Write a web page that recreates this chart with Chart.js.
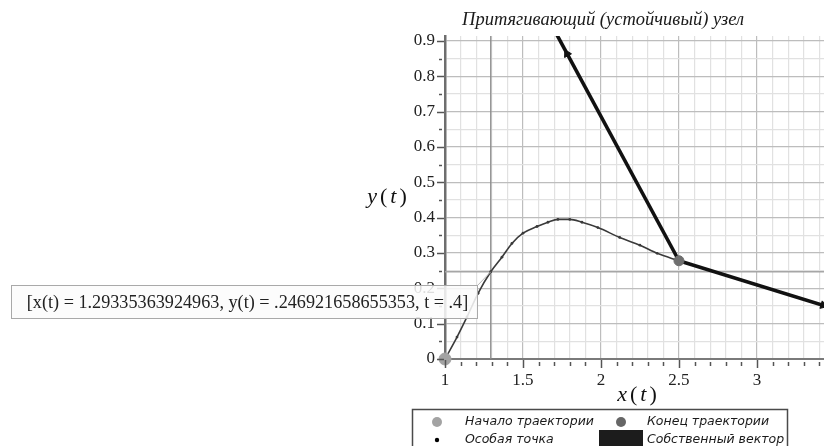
<!DOCTYPE html>
<html>
<head>
<meta charset="utf-8">
<script src="https://cdn.jsdelivr.net/npm/chart.js@4/dist/chart.umd.min.js"></script>
<style>
  html, body { margin: 0; padding: 0; background: #fff; overflow: hidden; }
  #wrap { position: relative; width: 824px; height: 446px; }
</style>
</head>
<body>
<div id="wrap"><canvas id="c" width="824" height="446"></canvas></div>
<script>
// Phase portrait of a stable node: one trajectory, the singular point and its eigenvectors
const chartTitle = 'Притягивающий (устойчивый) узел';
const xAxisName = 'x';
const yAxisName = 'y';
const paramName = 't';

// trajectory (x(t), y(t))
const trajX = [1.000, 1.077, 1.141, 1.212, 1.2934, 1.365, 1.429, 1.500, 1.590, 1.660, 1.724, 1.800, 1.878, 1.980, 2.120, 2.250, 2.360, 2.500];
const trajY = [0.000, 0.062, 0.119, 0.186, 0.2469, 0.288, 0.327, 0.356, 0.375, 0.387, 0.395, 0.395, 0.387, 0.372, 0.344, 0.322, 0.299, 0.278];

// start / end of the trajectory, singular point
const startPoint = { x: 1.0, y: 0.0 };
const endPoint = { x: 2.5, y: 0.278 };
const singularPoint = { x: 2.5, y: 0.278 };

// eigenvectors through the singular point
const eigenAX = [2.5, 1.702];
const eigenAY = [0.278, 0.930];
const eigenBX = [2.5, 3.46];
const eigenBY = [0.278, 0.147];
// arrow heads on the eigenvectors
const arrowX = [1.782, 3.425];
const arrowY = [0.864, 0.152];
const arrowAngle = [-28, 107];

// probed point on the trajectory
const probeX = 1.29335363924963;
const probeY = 0.246921658655353;
const probeT = 0.4;

// axis ticks
const xTickValues = [1, 1.1, 1.2, 1.3, 1.4, 1.5, 1.6, 1.7, 1.8, 1.9, 2, 2.1, 2.2, 2.3, 2.4, 2.5, 2.6, 2.7, 2.8, 2.9, 3, 3.1, 3.2, 3.3, 3.4];
const xTickLabels = ['1', '1.5', '2', '2.5', '3'];
const yTickValues = [0, 0.05, 0.1, 0.15, 0.2, 0.25, 0.3, 0.35, 0.4, 0.45, 0.5, 0.55, 0.6, 0.65, 0.7, 0.75, 0.8, 0.85, 0.9];
const yTickLabels = ['0', '0.1', '0.2', '0.3', '0.4', '0.5', '0.6', '0.7', '0.8', '0.9'];

// legend entries
const legendItems = [
  { text: 'Начало траектории', kind: 'circle', color: '#a3a3a3' },
  { text: 'Конец траектории', kind: 'circle', color: '#666666' },
  { text: 'Особая точка', kind: 'dot', color: '#000000' },
  { text: 'Собственный вектор', kind: 'rect', color: '#1c1c1c' }
];

const pts = (xs, ys) => xs.map((x, i) => ({ x: x, y: ys[i] }));
const isMult = (v, step) => Math.abs(v / step - Math.round(v / step)) < 1e-6;
const fmt = v => String(v).replace(/^0\./, '.');
const SERIF = '"Liberation Serif", "Times New Roman", serif';

function labelFor(v, labels) {
  const s = String(Math.round(v * 100) / 100);
  return labels.includes(s) ? s : '';
}

const decor = {
  id: 'decor',
  beforeDatasetsDraw(chart) {
    const { ctx, chartArea: a, scales: { x, y } } = chart;
    // crosshair of the probed point
    ctx.save();
    ctx.strokeStyle = '#8c8c8c';
    ctx.lineWidth = 1.3;
    const px = x.getPixelForValue(probeX), py = y.getPixelForValue(probeY);
    ctx.beginPath();
    ctx.moveTo(px, a.top); ctx.lineTo(px, a.bottom);
    ctx.stroke();
    ctx.strokeStyle = '#a6a6a6';
    ctx.beginPath();
    ctx.moveTo(a.left, py); ctx.lineTo(a.right, py);
    ctx.stroke();
    ctx.restore();
  },
  afterDraw(chart) {
    const { ctx, chartArea: a, scales: { x, y } } = chart;
    ctx.save();
    // tick marks
    ctx.strokeStyle = '#555';
    ctx.lineWidth = 1.5;
    yTickValues.forEach(v => {
      const py = Math.round(y.getPixelForValue(v)) + 0.5;
      const major = isMult(v, 0.1);
      ctx.beginPath();
      ctx.moveTo(a.left - (major ? 8 : 6), py);
      ctx.lineTo(a.left - (major ? 1 : 3), py);
      ctx.stroke();
    });
    xTickValues.forEach(v => {
      const px = Math.round(x.getPixelForValue(v)) + 0.5;
      const major = isMult(v, 0.5);
      ctx.beginPath();
      ctx.moveTo(px, a.bottom + (major ? 1 : 3));
      ctx.lineTo(px, a.bottom + (major ? 9 : 7));
      ctx.stroke();
    });

    // title
    ctx.fillStyle = '#1a1a1a';
    ctx.font = 'italic 18.5px ' + SERIF;
    ctx.textAlign = 'center';
    ctx.textBaseline = 'middle';
    ctx.fillText(chartTitle, 603, 20);

    // axis names, e.g. y(t)
    function axisName(name, cx, cy) {
      const parts = [[name, 'italic'], ['(', 'normal'], [paramName, 'italic'], [')', 'normal']];
      const gap = 3;
      let w = 0;
      parts.forEach(p => { ctx.font = p[1] + ' 22px ' + SERIF; w += ctx.measureText(p[0]).width + gap; });
      w -= gap;
      let cur = cx - w / 2;
      ctx.textAlign = 'left';
      parts.forEach(p => {
        ctx.font = p[1] + ' 22px ' + SERIF;
        ctx.fillText(p[0], cur, cy);
        cur += ctx.measureText(p[0]).width + gap;
      });
    }
    ctx.fillStyle = '#111';
    axisName(yAxisName, 387, 197);
    axisName(xAxisName, 637, 395);

    // probe label with pointer
    const ppx = x.getPixelForValue(probeX), ppy = y.getPixelForValue(probeY);
    const box = { l: 11, t: 285, r: 478, b: 319 };
    ctx.strokeStyle = '#b5b5b5';
    ctx.lineWidth = 1;
    ctx.beginPath();
    ctx.moveTo(box.r - 1, box.t + 1);
    ctx.lineTo(ppx, ppy);
    ctx.stroke();
    ctx.fillStyle = 'rgba(251,251,251,0.86)';
    ctx.fillRect(box.l, box.t, box.r - box.l, box.b - box.t);
    ctx.strokeStyle = '#a9a9a9';
    ctx.strokeRect(box.l + 0.5, box.t + 0.5, box.r - box.l - 1, box.b - box.t - 1);
    ctx.fillStyle = '#222';
    ctx.font = '18.2px ' + SERIF;
    ctx.textAlign = 'center';
    ctx.textBaseline = 'middle';
    const probeText = '[' + xAxisName + '(' + paramName + ') = ' + fmt(probeX) + ', ' +
      yAxisName + '(' + paramName + ') = ' + fmt(probeY) + ', ' + paramName + ' = ' + fmt(probeT) + ']';
    ctx.fillText(probeText, (box.l + box.r) / 2 + 3, (box.t + box.b) / 2 + 1);

    // legend
    const lg = { l: 412, t: 409, r: 788, b: 452 };
    ctx.fillStyle = '#fff';
    ctx.fillRect(lg.l, lg.t, lg.r - lg.l, lg.b - lg.t);
    ctx.strokeStyle = '#4a4a4a';
    ctx.lineWidth = 1.5;
    ctx.strokeRect(lg.l + 0.5, lg.t + 0.5, lg.r - lg.l - 1, lg.b - lg.t);
    const colMark = [437, 621], colText = [465, 647], rowY = [422, 440];
    ctx.font = 'italic 12.5px "DejaVu Sans", Verdana, sans-serif';
    ctx.textAlign = 'left';
    ctx.textBaseline = 'middle';
    legendItems.forEach((it, i) => {
      const c = i % 2, r = Math.floor(i / 2);
      const mx = colMark[c], my = rowY[r];
      ctx.fillStyle = it.color;
      if (it.kind === 'circle') {
        ctx.beginPath(); ctx.arc(mx, my, 5, 0, Math.PI * 2); ctx.fill();
      } else if (it.kind === 'dot') {
        ctx.beginPath(); ctx.arc(mx, my, 2.2, 0, Math.PI * 2); ctx.fill();
      } else {
        ctx.fillRect(599, 430, 44, 20);
      }
      ctx.fillStyle = '#1a1a1a';
      ctx.fillText(it.text, colText[c], my);
    });
    ctx.restore();
  }
};

new Chart(document.getElementById('c'), {
  type: 'scatter',
  data: {
    datasets: [
      {
        label: 'Начало траектории',
        data: [startPoint],
        pointRadius: 6, pointHoverRadius: 6,
        backgroundColor: '#a3a3a3', borderColor: '#a3a3a3',
        clip: 10, order: 0
      },
      {
        label: 'Конец траектории',
        data: [endPoint],
        pointRadius: 5, pointHoverRadius: 5,
        backgroundColor: '#6f6f6f', borderColor: '#6f6f6f',
        clip: 10, order: 1
      },
      {
        label: 'Особая точка',
        data: [singularPoint],
        pointRadius: 2.2,
        backgroundColor: '#000', borderColor: '#000',
        order: 2
      },
      {
        label: 'trajectory',
        data: pts(trajX, trajY),
        showLine: true,
        cubicInterpolationMode: 'monotone',
        borderColor: '#3a3a3a', borderWidth: 1.6,
        pointRadius: 1.4, pointBackgroundColor: '#3a3a3a', pointBorderWidth: 0,
        order: 3
      },
      {
        label: 'Собственный вектор',
        data: pts(arrowX, arrowY),
        pointStyle: 'triangle',
        rotation: arrowAngle,
        pointRadius: 4.5,
        backgroundColor: '#111', borderColor: '#111',
        order: 4
      },
      {
        label: 'eigenA',
        data: pts(eigenAX, eigenAY),
        showLine: true, borderColor: '#111', borderWidth: 3.6,
        pointRadius: 0, order: 5
      },
      {
        label: 'eigenB',
        data: pts(eigenBX, eigenBY),
        showLine: true, borderColor: '#111', borderWidth: 3.6,
        pointRadius: 0, order: 5
      }
    ]
  },
  options: {
    responsive: false,
    animation: false,
    devicePixelRatio: 1,
    layout: { autoPadding: false, padding: { top: 36, left: 0, right: 0, bottom: 0 } },
    plugins: { legend: { display: false }, tooltip: { enabled: false }, title: { display: false } },
    events: [],
    scales: {
      x: {
        type: 'linear', min: 1, max: 3.43,
        afterBuildTicks: s => { s.ticks = xTickValues.map(v => ({ value: v })); },
        afterFit: s => { s.height = 87; s.paddingLeft = 0; s.paddingRight = 0; },
        ticks: {
          autoSkip: false, maxRotation: 0, padding: 11,
          color: '#222', font: { family: SERIF, size: 17 },
          callback: v => labelFor(v, xTickLabels)
        },
        grid: {
          drawTicks: false,
          color: c => isMult(c.tick.value, 0.5) ? '#bdbdbd' : '#e1e1e1',
          lineWidth: 1.2
        },
        border: { display: true, color: '#7a7a7a', width: 2 }
      },
      y: {
        type: 'linear', min: 0, max: 0.914,
        afterBuildTicks: s => { s.ticks = yTickValues.map(v => ({ value: v })); },
        afterFit: s => { s.width = 445; s.paddingTop = 0; s.paddingBottom = 0; },
        ticks: {
          autoSkip: false, padding: 10,
          color: '#222', font: { family: SERIF, size: 17 },
          callback: v => labelFor(v, yTickLabels)
        },
        grid: {
          drawTicks: false,
          color: c => isMult(c.tick.value, 0.1) ? '#bdbdbd' : '#e1e1e1',
          lineWidth: 1.2
        },
        border: { display: true, color: '#6e6e6e', width: 2.5 }
      }
    }
  },
  plugins: [decor]
});
</script>
</body>
</html>
